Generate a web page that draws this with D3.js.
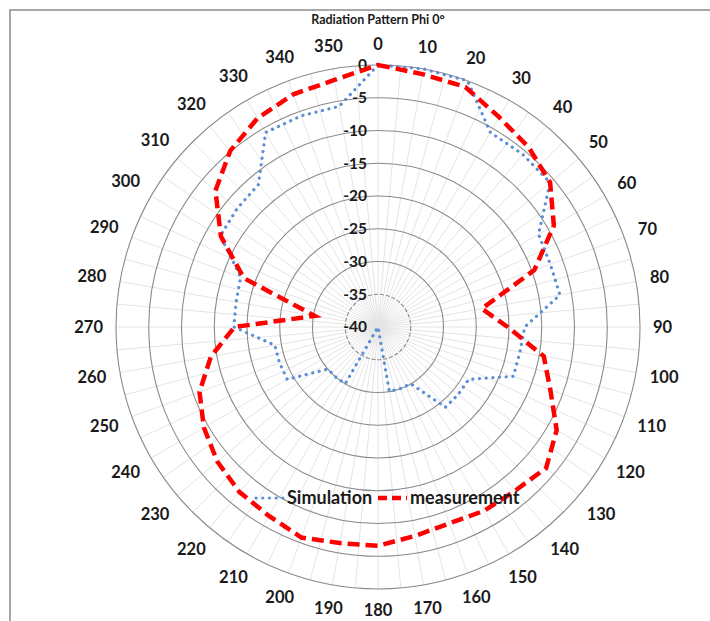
<!DOCTYPE html>
<html>
<head>
<meta charset="utf-8">
<script src="https://cdn.jsdelivr.net/npm/d3@7"></script>
<style>
  body { margin: 0; background: #fff; }
  text { font-family: Lato, "Open Sans", sans-serif; }
</style>
</head>
<body>
<div id="chart"></div>
<script>
// categories (degrees) and tick labels
const angles = [0, 10, 20, 30, 40, 50, 60, 70, 80, 90, 100, 110, 120, 130, 140, 150, 160, 170,
  180, 190, 200, 210, 220, 230, 240, 250, 260, 270, 280, 290, 300, 310, 320, 330, 340, 350];
const radialTicks = [0, -5, -10, -15, -20, -25, -30, -35, -40];

// series values (dB), one per angle
const simulation = [0, 0, 0, -5.7, -5.6, -5.7, -11.7, -12, -11.8, -17.6, -18, -18,
  -24, -24, -24, -30, -30, -30, -40, -40, -40, -30, -30, -30,
  -24, -24, -24, -18, -18, -17.7, -12.2, -11.9, -11.6, -5.7, -5.7, -5.8];
const measurement = [0, -0.8, -1, -3, -4.2, -5.7, -9, -14.6, -23.9, -20.2, -14.3, -12, 
  -8.5, -6.5, -7.4, -7.6, -8.1, -7.6, -6.6, -6.5, -5.8, -6.7, -7.1, -8, 
  -9.3, -11, -14.1, -18.1, -30.2, -18.2, -12.3, -7.6, -4.9, -3.2, -2.2, -1.7];
const seriesNames = ["Simulation", "measurement"];

const width = 710;
const height = 621;
const cx = 378;
const cy = 327;
const radius = 262;

const svg = d3.select("#chart").append("svg")
  .attr("width", width)
  .attr("height", height)
  .style("display", "block");

// chart area border (only top and left visible)
svg.append("path")
  .attr("d", `M10,${height} V10 H${width}`)
  .attr("fill", "none")
  .attr("stroke", "#8c8c8c")
  .attr("stroke-width", 1.5);

const r = d3.scaleLinear().domain([-40, 0]).range([0, radius]);
const rad = d => d * Math.PI / 180;

const g = svg.append("g").attr("transform", `translate(${cx},${cy})`);

// spokes
const spokes = d3.range(0, 360, 5);
g.append("g").selectAll("line")
  .data(spokes)
  .join("line")
  .attr("x1", 0).attr("y1", 0)
  .attr("x2", d => radius * Math.sin(rad(d)))
  .attr("y2", d => -radius * Math.cos(rad(d)))
  .attr("stroke", "#e4e4e4")
  .attr("stroke-width", 1);

// rings
g.append("g").selectAll("circle")
  .data(radialTicks.filter(t => t > -40))
  .join("circle")
  .attr("r", d => r(d))
  .attr("fill", "none")
  .attr("stroke", "#8a8a8a")
  .attr("stroke-width", 1.1)
  .attr("stroke-dasharray", d => d === -35 ? "4 2" : null);

// radial value labels
g.append("g").selectAll("text")
  .data(radialTicks)
  .join("text")
  .attr("x", -11)
  .attr("y", d => -r(d))
  .attr("dy", "0.35em")
  .attr("text-anchor", "end")
  .attr("font-size", 15.5)
  .attr("font-weight", "bold")
  .attr("fill", "#1a1a1a")
  .text(d => d);

// angle labels, pushed out so the box clears the outer ring
const angleLabels = g.append("g").selectAll("text")
  .data(angles)
  .join("text")
  .attr("text-anchor", "middle")
  .attr("dy", "0.35em")
  .attr("font-size", 16.5)
  .attr("font-weight", "bold")
  .attr("fill", "#1a1a1a")
  .text(d => d);

angleLabels.each(function(d) {
  const w = this.getComputedTextLength();
  const s = Math.sin(rad(d)), c = Math.cos(rad(d));
  const dist = 275 + (w / 2) * Math.abs(s) + 8 * Math.abs(c);
  d3.select(this).attr("x", dist * s).attr("y", -dist * c);
});

// series
const line = d3.lineRadial()
  .angle((d, i) => rad(angles[i]))
  .radius(d => r(d))
  .curve(d3.curveLinearClosed);

g.append("path")
  .datum(simulation)
  .attr("d", line)
  .attr("fill", "none")
  .attr("stroke", "#5b8ed6")
  .attr("stroke-width", 3.2)
  .attr("stroke-linecap", "round")
  .attr("stroke-dasharray", "0.1 6.6");

g.append("path")
  .datum(measurement)
  .attr("d", line)
  .attr("fill", "none")
  .attr("stroke", "#ff0000")
  .attr("stroke-width", 4.5)
  .attr("stroke-dasharray", "12 6");

// title
svg.append("text")
  .attr("x", cx)
  .attr("y", 24)
  .attr("text-anchor", "middle")
  .attr("font-size", 12.5)
  .attr("font-weight", "bold")
  .attr("fill", "#1a1a1a")
  .text("Radiation Pattern Phi 0°");

// legend
const legend = svg.append("g").attr("transform", "translate(256,498)");
legend.append("line")
  .attr("x1", 0).attr("x2", 27).attr("y1", 0).attr("y2", 0)
  .attr("stroke", "#5b8ed6").attr("stroke-width", 3.2)
  .attr("stroke-linecap", "round").attr("stroke-dasharray", "0.1 6.6");
legend.append("text")
  .attr("x", 31).attr("y", 0).attr("dy", "0.35em")
  .attr("font-size", 18).attr("font-weight", "bold").attr("fill", "#1a1a1a")
  .text(seriesNames[0]);
legend.append("line")
  .attr("x1", 122).attr("x2", 151).attr("y1", 0).attr("y2", 0)
  .attr("stroke", "#ff0000").attr("stroke-width", 4.5)
  .attr("stroke-dasharray", "9 5");
legend.append("text")
  .attr("x", 154).attr("y", 0).attr("dy", "0.35em")
  .attr("font-size", 18).attr("font-weight", "bold").attr("fill", "#1a1a1a")
  .text(seriesNames[1]);
</script>
</body>
</html>
